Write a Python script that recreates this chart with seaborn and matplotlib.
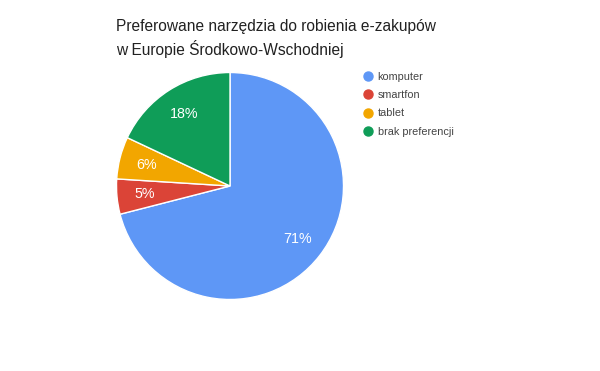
import matplotlib
matplotlib.use("Agg")
import matplotlib.pyplot as plt
import seaborn as sns
from matplotlib.lines import Line2D

categories = ["komputer", "smartfon", "tablet", "brak preferencji"]
values = [71, 5, 6, 18]
colors = ["#5e97f6", "#db4437", "#f2a600", "#0f9d58"]
title_lines = ["Preferowane narzędzia do robienia e-zakupów",
               "w Europie Środkowo-Wschodniej"]

sns.set_theme(style="white")
plt.rcParams["font.family"] = ["Liberation Sans", "DejaVu Sans"]

W, H = 600, 371
fig = plt.figure(figsize=(W / 100, H / 100), dpi=100)
fig.patch.set_facecolor("white")

cx, cy, r = 230, 186, 113.5
ax = fig.add_axes([(cx - r) / W, (H - cy - r) / H, 2 * r / W, 2 * r / H])
wedges, texts, autotexts = ax.pie(
    values,
    colors=colors,
    startangle=90,
    counterclock=False,
    autopct="%d%%",
    pctdistance=0.755,
    wedgeprops=dict(edgecolor="white", linewidth=1),
    textprops=dict(color="white", fontsize=10.3),
)
ax.set_xlim(-1, 1)
ax.set_ylim(-1, 1)
ax.set_aspect("equal")
ax.axis("off")

for i, line in enumerate(title_lines):
    fig.text(116 / W, 1 - (31 + 24.5 * i) / H, line, ha="left", va="baseline",
             fontsize=11.2, color="#212121")

handles = [Line2D([0], [0], marker="o", linestyle="", markersize=6.5,
                  markerfacecolor=c, markeredgecolor=c) for c in colors]
leg = fig.legend(handles, categories, loc="upper left",
                 bbox_to_anchor=(363 / W, 1 - 72 / H), frameon=False,
                 fontsize=7.8, labelspacing=0.76, handletextpad=0.35,
                 handlelength=1.0, borderaxespad=0, borderpad=0)
for t in leg.get_texts():
    t.set_color("#444444")

fig.savefig("out.png", dpi=100, facecolor="white")
